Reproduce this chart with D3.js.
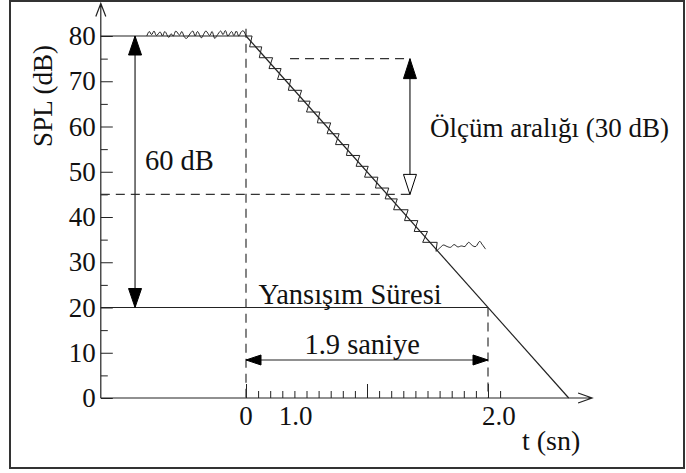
<!DOCTYPE html>
<html>
<head>
<meta charset="utf-8">
<script src="https://cdn.jsdelivr.net/npm/d3@7"></script>
<style>
  body { margin: 0; background: #fff; }
  svg text { font-family: "Liberation Serif", "Times New Roman", serif; fill: #111; }
</style>
</head>
<body>
<svg id="chart" width="686" height="473"></svg>
<script>
// measured level, steady part before the source stops
const flatT = [-0.82,-0.80,-0.78,-0.76,-0.74,-0.71,-0.69,-0.67,-0.64,-0.62,-0.60,-0.58,-0.55,-0.53,-0.51,-0.49,-0.47,-0.44,-0.42,-0.40,-0.37,-0.35,-0.33,-0.30,-0.28,-0.26,-0.24,-0.21,-0.19,-0.17,-0.15,-0.12,-0.10,-0.08,-0.06,-0.04,-0.02,0.00];
const flatDb = [80.0,81.0,80.3,81.1,80.1,80.9,80.0,81.0,79.7,80.5,80.0,81.1,80.2,81.0,79.8,79.5,80.2,81.1,80.0,81.0,79.6,80.4,81.1,80.1,81.0,79.5,80.1,81.1,80.3,81.2,80.0,81.0,80.1,81.1,80.0,80.9,81.1,80.0];

// measured decay (noisy, ragged steps across the mean line)
const decayT = [0.00,0.05, 0.03,0.13, 0.11,0.22, 0.19,0.29, 0.26,0.37, 0.35,0.46, 0.43,0.53, 0.50,0.61, 0.59,0.70, 0.67,0.77, 0.74,0.85, 0.83,0.94, 0.91,1.01, 0.98,1.09, 1.07,1.18, 1.15,1.25, 1.22,1.34, 1.31,1.42, 1.39,1.50, 1.46,1.58, 1.57];
const decayDb = [80.0,80.0, 77.6,77.6, 75.2,75.2, 72.8,72.8, 70.4,70.4, 68.0,68.0, 65.6,65.6, 63.2,63.2, 60.8,60.8, 58.4,58.4, 56.0,56.0, 53.6,53.6, 51.2,51.2, 48.8,48.8, 46.4,46.4, 44.0,44.0, 41.6,41.6, 39.2,39.2, 36.8,36.8, 34.4,34.4, 32.4];

// background noise tail
const tailT = [1.57,1.60,1.63,1.66,1.69,1.72,1.75,1.78,1.81,1.84,1.87,1.90,1.93,1.95,1.98];
const tailDb = [32.4,33.1,33.8,33.5,33.3,33.9,33.4,33.6,33.5,34.4,33.7,33.5,34.6,34.0,32.9];

// idealised decay line
const fitT = [0, 2.667];
const fitDb = [80, 0];

const yMajor = [0,10,20,30,40,50,60,70,80];
const yMinor = [5,15,25,35,45,55,65,75];
const xTicks = d3.range(0, 2.15, 0.1);
const xMajor = [0, 1, 2];
const xTickLabels = [{t: 0, text: "0"}, {t: 0.41, text: "1.0"}, {t: 2.09, text: "2.0"}];

const svg = d3.select("#chart");
const x = d3.scaleLinear().domain([0, 2]).range([246, 488]);
const y = d3.scaleLinear().domain([0, 80]).range([398, 36]);

const ink = "#222";
const zip = (a, b) => a.map((v, i) => [v, b[i]]);
const line = d3.line().x(d => x(d[0])).y(d => y(d[1]));

// frame
svg.append("rect").attr("x", 10).attr("y", 1).attr("width", 674).attr("height", 467)
  .attr("fill", "none").attr("stroke", "#333").attr("stroke-width", 2);

// y axis
const x0 = x(-1.2);
const yAx = svg.append("g").attr("transform", `translate(${x0},0)`)
  .call(d3.axisLeft(y).tickValues(yMajor).tickSize(-12).tickPadding(5));
yAx.select(".domain").remove();
yAx.selectAll("line").attr("stroke", ink);
yAx.selectAll("text").attr("font-size", 27).attr("fill", "#111");
const yMin = svg.append("g").attr("transform", `translate(${x0},0)`)
  .call(d3.axisLeft(y).tickValues(yMinor).tickSize(-7).tickFormat(""));
yMin.select(".domain").remove();
yMin.selectAll("line").attr("stroke", ink);

// x axis
const xAx = svg.append("g").attr("transform", `translate(0,${y(0)})`)
  .call(d3.axisBottom(x).tickValues(xTicks).tickSize(-7).tickFormat(""));
xAx.select(".domain").remove();
xAx.selectAll("line").attr("stroke", ink);
const xBig = svg.append("g").attr("transform", `translate(0,${y(0)})`)
  .call(d3.axisBottom(x).tickValues(xMajor).tickSize(-14).tickFormat(""));
xBig.select(".domain").remove();
xBig.selectAll("line").attr("stroke", ink);

svg.selectAll(".xlab").data(xTickLabels).join("text")
  .attr("x", d => x(d.t)).attr("y", y(0) + 27)
  .attr("text-anchor", "middle").attr("font-size", 27).text(d => d.text);

// axis lines with open arrows
const yTop = y(87.2), xEnd = x(2.86);
svg.append("path").attr("d", `M${x0},${y(0)}V${yTop}M${x0 - 5},${yTop + 13}L${x0},${yTop}L${x0 + 5},${yTop + 13}`)
  .attr("fill", "none").attr("stroke", ink).attr("stroke-width", 1.2);
svg.append("path").attr("d", `M${x0},${y(0)}H${xEnd}M${xEnd - 14},${y(0) - 5}L${xEnd},${y(0)}L${xEnd - 14},${y(0) + 5}`)
  .attr("fill", "none").attr("stroke", ink).attr("stroke-width", 1.2);

svg.append("text").attr("transform", `translate(52,96) rotate(-90)`)
  .attr("text-anchor", "middle").attr("font-size", 27).text("SPL (dB)");
svg.append("text").attr("x", x(2.28)).attr("y", y(-11.5)).attr("font-size", 28).text("t (sn)");

// reference lines
const solid = (pts) => svg.append("path").attr("d", line(pts)).attr("fill", "none")
  .attr("stroke", ink).attr("stroke-width", 1.2);
const dashed = (pts) => solid(pts).attr("stroke-dasharray", "9,6").attr("stroke", "#333");

solid([[-1.2, 80], [0, 80]]);
solid([[-1.2, 20], [2, 20]]);
solid(zip(fitT, fitDb));
dashed([[0, 81.6], [0, 0]]);
dashed([[2, 20], [2, 0]]);
dashed([[-1.2, 45], [1.355, 45]]);
dashed([[0.364, 75], [1.355, 75]]);

// measured curve
const smooth = d3.line().x(d => x(d[0])).y(d => y(d[1])).curve(d3.curveCardinal);
svg.append("path").attr("d", smooth(zip(flatT, flatDb)))
  .attr("fill", "none").attr("stroke", ink).attr("stroke-width", 1);
svg.append("path").attr("d", line(zip(decayT, decayDb)))
  .attr("fill", "none").attr("stroke", ink).attr("stroke-width", 1);
svg.append("path").attr("d", smooth(zip(tailT, tailDb)))
  .attr("fill", "none").attr("stroke", ink).attr("stroke-width", 1);

// arrows
function head(px, py, dir, len, half, filled) {
  // dir: unit vector pointing toward the tip
  const bx = px - dir[0] * len, by = py - dir[1] * len;
  const nx = -dir[1] * half, ny = dir[0] * half;
  svg.append("path").attr("d", `M${px},${py}L${bx + nx},${by + ny}L${bx - nx},${by - ny}Z`)
    .attr("fill", filled ? "#000" : "#fff").attr("stroke", "#000").attr("stroke-width", 1);
}
function shaft(x1, y1, x2, y2) {
  svg.append("line").attr("x1", x1).attr("y1", y1).attr("x2", x2).attr("y2", y2)
    .attr("stroke", ink).attr("stroke-width", 1.2);
}

// 60 dB
const a60 = x(-0.917);
shaft(a60, y(80), a60, y(20));
head(a60, y(80), [0, -1], 19, 6.5, true);
head(a60, y(20), [0, 1], 19, 6.5, true);
svg.append("text").attr("x", x(-0.835)).attr("y", y(50.4)).attr("font-size", 28.5).text("60 dB");

// measurement range
const aM = x(1.355);
shaft(aM, y(75), aM, y(45));
head(aM, y(75), [0, -1], 20, 6.5, true);
head(aM, y(45), [0, 1], 20, 6.5, false);
svg.append("text").attr("x", x(1.52)).attr("y", y(57.7)).attr("font-size", 27).text("Ölçüm aralığı (30 dB)");

// reverberation time
const yR = y(8.4);
shaft(x(0), yR, x(2), yR);
head(x(0), yR, [-1, 0], 15, 5, true);
head(x(2), yR, [1, 0], 15, 5, true);
svg.append("text").attr("x", x(0.86)).attr("y", y(20.8)).attr("text-anchor", "middle")
  .attr("font-size", 28.5).text("Yansışım Süresi");
svg.append("text").attr("x", x(0.96)).attr("y", y(9.7)).attr("text-anchor", "middle")
  .attr("font-size", 28.5).text("1.9 saniye");
</script>
</body>
</html>
